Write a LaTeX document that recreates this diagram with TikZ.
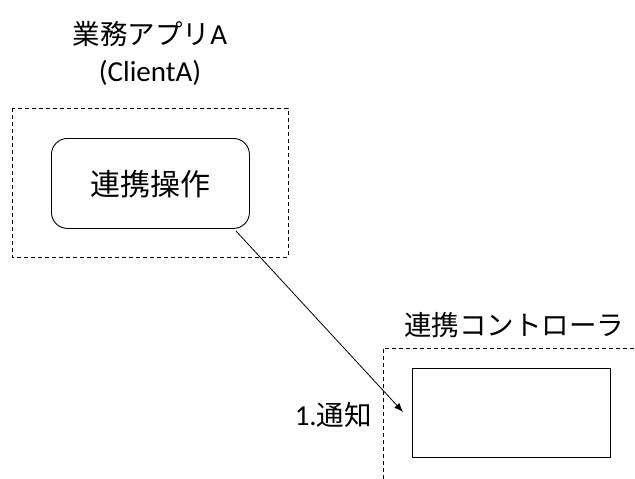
\documentclass[tikz,border=0pt]{standalone}
\usepackage{fontspec}
\setmainfont{Carlito}
\newfontfamily\cjk{Noto Sans CJK JP}
\usetikzlibrary{arrows.meta}
\begin{document}
\begin{tikzpicture}[x=1pt,y=-1pt,
  dashbox/.style={draw, line width=0.8pt, dash pattern=on 4pt off 3pt},
  solidbox/.style={draw, line width=0.9pt, fill=white},
  lbl/.style={inner sep=0pt, font=\fontsize{27.5}{32}\selectfont},
  conn/.style={line width=0.8pt, -{Latex[length=9pt,width=7pt]}}]
\useasboundingbox[fill=white] (0,0) rectangle (635,479);
% client A group
\draw[dashbox] (12,108) rectangle (288,257);
\node[solidbox, rounded corners=16pt, minimum width=198pt, minimum height=90pt, anchor=north west, inner sep=0pt] (op) at (51,138) {};
\node[lbl, font=\fontsize{30}{34}\selectfont] (optext) at (150,184) {\cjk 連携操作};
\node[lbl] (titleA) at (150,34) {\cjk 業務アプリ\rmfamily\fontsize{29}{32}\selectfont A};
\node[lbl, font=\fontsize{29}{32}\selectfont] (clientA) at (150,73) {(ClientA)};
% controller group
\coordinate (cv) at (383,348);
\coordinate (cb) at (383,479);
\coordinate (ce) at (635,348);
\draw[dashbox] (cb) -- (cv) -- (ce);
\node[solidbox, minimum width=198pt, minimum height=89pt, anchor=north west, inner sep=0pt] (ctrl) at (412,368) {};
\node[lbl] (titleC) at (514,325) {\cjk 連携コントローラ};
\node[lbl, anchor=east] (notify) at (372,415) {\fontsize{29}{32}\selectfont 1.\cjk\fontsize{27.5}{32}\selectfont 通知};
% connector
\coordinate (tip) at (403,412);
\draw[conn] ([xshift=-14pt,yshift=-2pt]op.south east) -- (tip);
\end{tikzpicture}
\end{document}
